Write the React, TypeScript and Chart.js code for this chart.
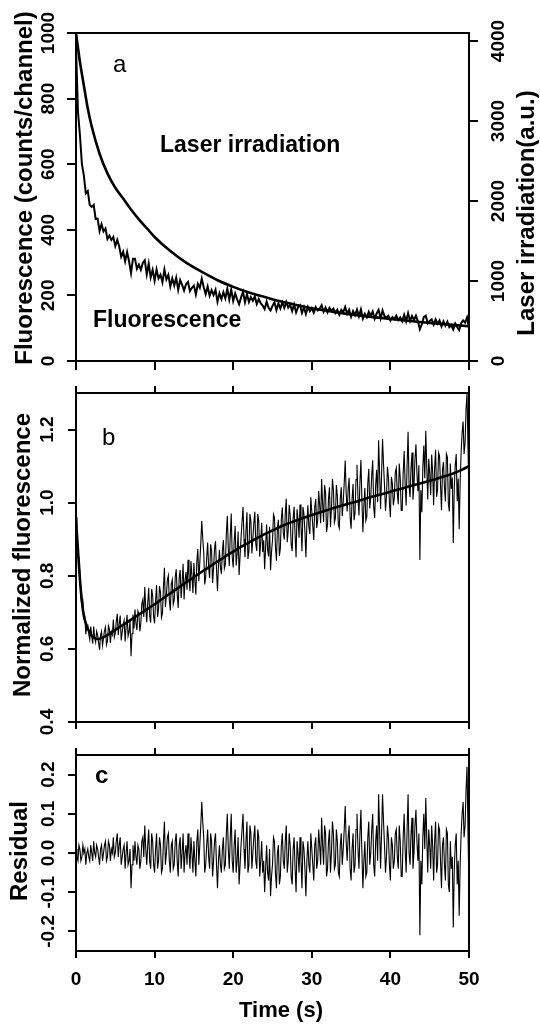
import React, { useEffect, useRef } from "react";
import { Chart, registerables } from "chart.js";

Chart.register(...registerables);

// ---------------- data ----------------
const TIME_TICKS = [0, 10, 20, 30, 40, 50];
const FLUOR_TICKS = [0, 200, 400, 600, 800, 1000];
const LASER_TICKS = [0, 1000, 2000, 3000, 4000];
const NORM_TICKS = [0.4, 0.6, 0.8, 1.0, 1.2];
const RESID_TICKS = [-0.2, -0.1, 0.0, 0.1, 0.2];

// sampling grids of the recorded traces (s)
const TRACE_STEP_A = 0.25;
const TRACE_STEP_BC = 0.125;
const timesA = Array.from({ length: 201 }, (_, i) => i * TRACE_STEP_A);
const timesBC = Array.from({ length: 401 }, (_, i) => i * TRACE_STEP_BC);

// panel a: fluorescence (counts/channel)
const fluorescence = [
  960, 760, 689, 601, 565, 511, 518, 475, 470, 476,
  433, 434, 396, 417, 395, 404, 372, 382, 369, 378,
  350, 369, 349, 318, 333, 304, 332, 304, 268, 312,
  312, 281, 294, 278, 299, 307, 264, 297, 255, 278,
  245, 279, 252, 263, 240, 279, 249, 263, 227, 252,
  230, 254, 217, 247, 232, 215, 234, 241, 213, 223,
  230, 203, 235, 223, 251, 225, 204, 227, 199, 216,
  201, 217, 181, 207, 189, 210, 191, 220, 187, 218,
  183, 206, 188, 173, 194, 211, 179, 204, 180, 195,
  184, 197, 174, 189, 176, 169, 158, 181, 162, 154,
  168, 179, 155, 176, 160, 179, 162, 180, 163, 171,
  152, 172, 148, 164, 170, 147, 164, 143, 165, 152,
  161, 147, 164, 154, 159, 170, 150, 163, 148, 162,
  153, 160, 146, 156, 141, 156, 149, 165, 144, 156,
  135, 152, 140, 157, 136, 157, 129, 144, 133, 150,
  138, 151, 129, 145, 156, 130, 154, 137, 132, 138,
  123, 134, 128, 138, 125, 133, 121, 141, 121, 146,
  122, 137, 125, 138, 121, 97, 112, 134, 138, 115,
  122, 127, 111, 127, 114, 124, 106, 121, 107, 120,
  103, 109, 96, 114, 103, 94, 115, 124, 117, 133,
  100,
];

// panel a: laser irradiation (a.u.)
const laserTimes = [0, 0.25, 0.5, 0.75, 1, 1.5, 2, 3, 4, 5, 6, 7, 8, 9, 10, 12, 14, 16, 18, 20, 22, 24, 26, 28, 30, 33, 36, 40, 45, 50];
const laserIrradiation = [4100, 3916, 3739, 3588, 3444, 3157, 2932, 2591, 2345, 2165, 2030, 1894, 1771, 1661, 1550, 1374, 1230, 1115, 1009, 927, 857, 800, 746, 701, 660, 611, 570, 525, 476, 435];

// panel b: normalized fluorescence
const normalizedFluorescence = [
  0.96, 0.90, 0.85, 0.85, 0.80, 0.74, 0.72, 0.73, 0.69, 0.69,
  0.64, 0.663, 0.665, 0.64, 0.625, 0.661, 0.636, 0.614, 0.661, 0.630,
  0.618, 0.648, 0.637, 0.617, 0.597, 0.638, 0.648, 0.609, 0.629, 0.650,
  0.660, 0.611, 0.622, 0.663, 0.654, 0.616, 0.647, 0.639, 0.680, 0.632,
  0.643, 0.675, 0.696, 0.638, 0.669, 0.691, 0.623, 0.645, 0.666, 0.678,
  0.620, 0.662, 0.693, 0.635, 0.647, 0.679, 0.580, 0.642, 0.694, 0.656,
  0.708, 0.670, 0.652, 0.704, 0.696, 0.648, 0.670, 0.723, 0.735, 0.687,
  0.769, 0.711, 0.673, 0.725, 0.767, 0.690, 0.672, 0.764, 0.746, 0.688,
  0.670, 0.733, 0.775, 0.687, 0.709, 0.772, 0.754, 0.686, 0.698, 0.770,
  0.822, 0.715, 0.747, 0.789, 0.801, 0.733, 0.705, 0.777, 0.789, 0.722,
  0.734, 0.796, 0.818, 0.750, 0.712, 0.794, 0.816, 0.739, 0.781, 0.833,
  0.735, 0.788, 0.810, 0.762, 0.844, 0.796, 0.758, 0.840, 0.801, 0.753,
  0.835, 0.787, 0.749, 0.841, 0.873, 0.785, 0.836, 0.888, 0.950, 0.902,
  0.864, 0.776, 0.797, 0.849, 0.891, 0.823, 0.794, 0.886, 0.868, 0.780,
  0.821, 0.873, 0.895, 0.817, 0.758, 0.830, 0.871, 0.823, 0.805, 0.867,
  0.898, 0.820, 0.831, 0.913, 0.964, 0.876, 0.827, 0.909, 0.970, 0.852,
  0.823, 0.895, 0.936, 0.828, 0.859, 0.921, 0.802, 0.854, 0.905, 0.947,
  0.988, 0.900, 0.851, 0.923, 0.974, 0.846, 0.867, 0.969, 0.950, 0.861,
  0.902, 0.944, 0.975, 0.887, 0.868, 0.969, 0.950, 0.852, 0.893, 0.944,
  0.865, 0.897, 0.818, 0.879, 0.940, 0.872, 0.853, 0.934, 0.815, 0.866,
  0.897, 0.968, 0.959, 0.880, 0.841, 0.932, 0.953, 0.854, 0.875, 0.956,
  0.987, 0.918, 0.899, 0.970, 1.011, 0.892, 0.923, 0.994, 0.965, 0.886,
  0.867, 0.958, 0.989, 0.910, 0.851, 0.982, 0.953, 0.904, 0.995, 0.936,
  0.867, 0.988, 0.969, 0.920, 0.851, 0.942, 0.993, 0.934, 0.914, 1.015,
  0.976, 0.937, 0.898, 0.989, 1.010, 0.931, 0.951, 1.032, 0.993, 0.944,
  1.065, 0.996, 0.947, 1.048, 1.028, 0.919, 0.940, 1.011, 1.042, 0.933,
  0.984, 1.065, 1.035, 0.946, 0.957, 1.048, 1.019, 0.940, 0.930, 1.011,
  1.042, 0.963, 1.003, 1.054, 1.115, 1.026, 0.976, 1.037, 1.068, 0.959,
  0.929, 1.010, 1.051, 0.952, 0.972, 1.063, 1.104, 1.015, 0.965, 1.056,
  1.117, 1.008, 0.919, 0.990, 1.040, 0.951, 0.962, 1.053, 1.093, 0.984,
  1.015, 1.076, 1.116, 0.987, 0.958, 1.049, 1.090, 1.001, 1.171, 1.082,
  0.983, 1.074, 1.174, 1.105, 1.046, 0.977, 1.017, 1.098, 1.069, 1.000,
  0.960, 1.071, 1.052, 0.993, 1.013, 1.084, 1.095, 1.026, 0.996, 1.107,
  1.068, 0.979, 0.979, 1.080, 1.141, 1.052, 0.992, 1.103, 1.194, 1.045,
  1.015, 1.096, 1.137, 1.008, 1.048, 1.119, 1.160, 1.081, 1.031, 1.102,
  0.843, 1.034, 0.974, 1.095, 1.156, 1.067, 1.197, 1.098, 1.009, 1.120,
  1.080, 1.021, 1.132, 1.083, 0.993, 1.094, 1.145, 1.016, 1.036, 1.137,
  1.128, 1.049, 0.979, 1.090, 1.111, 1.042, 1.003, 1.134, 1.125, 0.996,
  0.976, 1.107, 1.038, 1.069, 0.890, 1.041, 1.102, 1.133, 1.004, 1.066,
  0.927, 1.058, 1.139, 1.191, 1.222, 1.133, 1.164, 1.256, 1.300, 1.149,
  1.000,
];

// panel b: fitted curve
const fitTimes = [0, 0.25, 0.5, 0.75, 1, 1.25, 1.5, 1.75, 2, 2.25, 2.5, 2.75, 3, 3.5, 4, 4.5, 5, 6, 7, 8, 9, 10, 11, 12, 13, 14, 15, 16, 17, 18, 19, 20, 21, 22, 23, 24, 25, 26, 27, 28, 29, 30, 31, 32, 33, 34, 35, 36, 37, 38, 39, 40, 41, 42, 43, 44, 45, 46, 47, 48, 49, 50];
const fitValues = [0.95, 0.87, 0.79, 0.73, 0.69, 0.67, 0.655, 0.645, 0.636, 0.631, 0.628, 0.627, 0.628, 0.632, 0.638, 0.645, 0.652, 0.666, 0.680, 0.694, 0.708, 0.722, 0.737, 0.752, 0.767, 0.782, 0.796, 0.811, 0.825, 0.839, 0.853, 0.866, 0.879, 0.891, 0.903, 0.914, 0.924, 0.934, 0.943, 0.951, 0.959, 0.966, 0.973, 0.980, 0.987, 0.993, 0.999, 1.005, 1.012, 1.018, 1.024, 1.030, 1.036, 1.042, 1.048, 1.054, 1.060, 1.066, 1.073, 1.080, 1.089, 1.100];

// panel c: residuals
const residuals = [
  0.01, -0.01, -0.02, 0.02, 0.01, -0.02, -0.01, 0.02, 0.00, 0.01,
  -0.03, 0.00, 0.01, -0.01, -0.02, 0.02, 0.00, -0.02, 0.03, 0.00,
  -0.01, 0.02, 0.01, -0.01, -0.03, 0.01, 0.02, -0.02, 0.00, 0.02,
  0.03, -0.02, -0.01, 0.03, 0.02, -0.02, 0.01, 0.00, 0.04, -0.01,
  0.00, 0.03, 0.05, -0.01, 0.02, 0.04, -0.03, -0.01, 0.01, 0.02,
  -0.04, 0.00, 0.03, -0.03, -0.02, 0.01, -0.09, -0.03, 0.02, -0.02,
  0.03, -0.01, -0.03, 0.02, 0.01, -0.04, -0.02, 0.03, 0.04, -0.01,
  0.07, 0.01, -0.03, 0.02, 0.06, -0.02, -0.04, 0.05, 0.03, -0.03,
  -0.05, 0.01, 0.05, -0.04, -0.02, 0.04, 0.02, -0.05, -0.04, 0.03,
  0.08, -0.03, 0.00, 0.04, 0.05, -0.02, -0.05, 0.02, 0.03, -0.04,
  -0.03, 0.03, 0.05, -0.02, -0.06, 0.02, 0.04, -0.04, 0.00, 0.05,
  -0.05, 0.00, 0.02, -0.03, 0.05, 0.00, -0.04, 0.04, 0.00, -0.05,
  0.03, -0.02, -0.06, 0.03, 0.06, -0.03, 0.02, 0.07, 0.13, 0.08,
  0.04, -0.05, -0.03, 0.02, 0.06, -0.01, -0.04, 0.05, 0.03, -0.06,
  -0.02, 0.03, 0.05, -0.03, -0.09, -0.02, 0.02, -0.03, -0.05, 0.01,
  0.04, -0.04, -0.03, 0.05, 0.10, 0.01, -0.04, 0.04, 0.10, -0.02,
  -0.05, 0.02, 0.06, -0.05, -0.02, 0.04, -0.08, -0.03, 0.02, 0.06,
  0.10, 0.01, -0.04, 0.03, 0.08, -0.05, -0.03, 0.07, 0.05, -0.04,
  0.00, 0.04, 0.07, -0.02, -0.04, 0.06, 0.04, -0.06, -0.02, 0.03,
  -0.05, -0.02, -0.10, -0.04, 0.02, -0.05, -0.07, 0.01, -0.11, -0.06,
  -0.03, 0.04, 0.03, -0.05, -0.09, 0.00, 0.02, -0.08, -0.06, 0.02,
  0.05, -0.02, -0.04, 0.03, 0.07, -0.05, -0.02, 0.05, 0.02, -0.06,
  -0.08, 0.01, 0.04, -0.04, -0.10, 0.03, 0.00, -0.05, 0.04, -0.02,
  -0.09, 0.03, 0.01, -0.04, -0.11, -0.02, 0.03, -0.03, -0.05, 0.05,
  0.01, -0.03, -0.07, 0.02, 0.04, -0.04, -0.02, 0.06, 0.02, -0.03,
  0.09, 0.02, -0.03, 0.07, 0.05, -0.06, -0.04, 0.03, 0.06, -0.05,
  0.00, 0.08, 0.05, -0.04, -0.03, 0.06, 0.03, -0.05, -0.06, 0.02,
  0.05, -0.03, 0.01, 0.06, 0.12, 0.03, -0.02, 0.04, 0.07, -0.04,
  -0.07, 0.01, 0.05, -0.05, -0.03, 0.06, 0.10, 0.01, -0.04, 0.05,
  0.11, 0.00, -0.09, -0.02, 0.03, -0.06, -0.05, 0.04, 0.08, -0.03,
  0.00, 0.06, 0.10, -0.03, -0.06, 0.03, 0.07, -0.02, 0.15, 0.06,
  -0.04, 0.05, 0.15, 0.08, 0.02, -0.05, -0.01, 0.07, 0.04, -0.03,
  -0.07, 0.04, 0.02, -0.04, -0.02, 0.05, 0.06, -0.01, -0.04, 0.07,
  0.03, -0.06, -0.06, 0.04, 0.10, 0.01, -0.05, 0.06, 0.15, 0.00,
  -0.03, 0.05, 0.09, -0.04, 0.00, 0.07, 0.11, 0.03, -0.02, 0.05,
  -0.21, -0.02, -0.08, 0.04, 0.10, 0.01, 0.14, 0.04, -0.05, 0.06,
  0.02, -0.04, 0.07, 0.02, -0.07, 0.03, 0.08, -0.05, -0.03, 0.07,
  0.06, -0.02, -0.09, 0.02, 0.04, -0.03, -0.07, 0.06, 0.05, -0.08,
  -0.10, 0.03, -0.04, -0.01, -0.19, -0.04, 0.02, 0.05, -0.08, -0.02,
  -0.16, -0.03, 0.05, 0.10, 0.13, 0.04, 0.07, 0.16, 0.22, 0.05,
  -0.10,
];

// ---------------- styling helpers ----------------
const BLACK = "#000000";
const FAMILY = "'Liberation Sans', Arial, Helvetica, sans-serif";
const TICK_FONT = `bold 19px ${FAMILY}`;
const TITLE_FONT = `bold 24px ${FAMILY}`;

const toPoints = (xs: number[], ys: number[]) => ys.map((y, i) => ({ x: xs[i], y }));

type Item =
  | { kind: "yTicks"; scale: string; x: number; decimals: number }
  | { kind: "xTicks"; scale: string; y: number; decimals: number }
  | { kind: "text"; text: string; x: number; y: number; font: string; rotate?: boolean; align?: CanvasTextAlign; baseline?: CanvasTextBaseline };

function makeTextPlugin(items: Item[]) {
  return {
    id: "textLayer",
    afterDraw(chart: any) {
      const ctx: CanvasRenderingContext2D = chart.ctx;
      ctx.save();
      ctx.fillStyle = BLACK;
      const rotated = (text: string, x: number, y: number) => {
        ctx.save();
        ctx.translate(x, y);
        ctx.rotate(-Math.PI / 2);
        ctx.fillText(text, 0, 0);
        ctx.restore();
      };
      for (const it of items) {
        if (it.kind === "yTicks") {
          const sc = chart.scales[it.scale];
          ctx.font = TICK_FONT;
          ctx.textAlign = "center";
          ctx.textBaseline = "middle";
          for (const t of sc.ticks) {
            rotated(Number(t.value).toFixed(it.decimals), it.x, sc.getPixelForValue(t.value));
          }
        } else if (it.kind === "xTicks") {
          const sc = chart.scales[it.scale];
          ctx.font = TICK_FONT;
          ctx.textAlign = "center";
          ctx.textBaseline = "middle";
          for (const t of sc.ticks) {
            ctx.fillText(Number(t.value).toFixed(it.decimals), sc.getPixelForValue(t.value), it.y);
          }
        } else {
          ctx.font = it.font;
          ctx.textAlign = it.align || "center";
          ctx.textBaseline = it.baseline || "middle";
          if (it.rotate) rotated(it.text, it.x, it.y);
          else ctx.fillText(it.text, it.x, it.y);
        }
      }
      ctx.restore();
    },
  };
}

function edgeAxis(position: string, min: number, max: number, tickValues: number[], tickLen: number, size: number) {
  const horizontal = position === "top" || position === "bottom";
  return {
    type: "linear",
    position,
    min,
    max,
    afterBuildTicks: (scale: any) => {
      scale.ticks = tickValues.map((v) => ({ value: v }));
    },
    afterFit: (scale: any) => {
      if (horizontal) scale.height = size;
      else scale.width = size;
    },
    ticks: { display: false },
    grid: {
      display: true,
      drawOnChartArea: false,
      drawTicks: tickLen > 0,
      tickLength: tickLen,
      color: BLACK,
      lineWidth: 2,
    },
    border: { display: true, color: BLACK, width: 2 },
  };
}

const LEFT_W = 76;
const RIGHT_W = 71;

function baseOptions(topPad: number, scales: any) {
  return {
    responsive: false,
    animation: false,
    events: [],
    layout: { padding: { top: topPad, left: 0, right: 0, bottom: 0 } },
    plugins: { legend: { display: false }, tooltip: { enabled: false }, title: { display: false } },
    elements: { point: { radius: 0 }, line: { tension: 0 } },
    scales,
  };
}

function configA(): any {
  return {
    type: "line",
    data: {
      datasets: [
        {
          data: toPoints(laserTimes, laserIrradiation),
          yAxisID: "yR",
          xAxisID: "x",
          borderColor: BLACK,
          borderWidth: 2.6,
          cubicInterpolationMode: "monotone",
          fill: false,
        },
        {
          data: toPoints(timesA, fluorescence),
          yAxisID: "y",
          xAxisID: "x",
          borderColor: BLACK,
          borderWidth: 2,
          fill: false,
        },
      ],
    },
    options: baseOptions(33, {
      x: edgeAxis("bottom", 0, 50, TIME_TICKS, 9, 19),
      xT: edgeAxis("top", 0, 50, TIME_TICKS, 0, 0),
      y: edgeAxis("left", 0, 1000, FLUOR_TICKS, 9, LEFT_W),
      yR: edgeAxis("right", 0, 4100, LASER_TICKS, 9, RIGHT_W),
    }),
    plugins: [
      makeTextPlugin([
        { kind: "yTicks", scale: "y", x: 49, decimals: 0 },
        { kind: "yTicks", scale: "yR", x: 499, decimals: 0 },
        { kind: "text", text: "Fluorescence (counts/channel)", x: 25, y: 188, font: TITLE_FONT, rotate: true },
        { kind: "text", text: "Laser irradiation(a.u.)", x: 527, y: 213, font: TITLE_FONT, rotate: true },
        { kind: "text", text: "a", x: 113, y: 72, font: `24px ${FAMILY}`, align: "left", baseline: "alphabetic" },
        { kind: "text", text: "Laser irradiation", x: 160, y: 152, font: `bold 23px ${FAMILY}`, align: "left", baseline: "alphabetic" },
        { kind: "text", text: "Fluorescence", x: 93, y: 327, font: `bold 23px ${FAMILY}`, align: "left", baseline: "alphabetic" },
      ]),
    ],
  };
}

function configB(): any {
  return {
    type: "line",
    data: {
      datasets: [
        {
          data: toPoints(timesBC, normalizedFluorescence),
          borderColor: BLACK,
          borderWidth: 1.1,
          fill: false,
        },
        {
          data: toPoints(fitTimes, fitValues),
          borderColor: BLACK,
          borderWidth: 2.6,
          cubicInterpolationMode: "monotone",
          fill: false,
        },
      ],
    },
    options: baseOptions(13, {
      x: edgeAxis("bottom", 0, 50, TIME_TICKS, 7, 14),
      xT: edgeAxis("top", 0, 50, TIME_TICKS, 7, 0),
      y: edgeAxis("left", 0.4, 1.3, NORM_TICKS, 8, LEFT_W),
      yR: edgeAxis("right", 0.4, 1.3, [], 0, RIGHT_W),
    }),
    plugins: [
      makeTextPlugin([
        { kind: "yTicks", scale: "y", x: 48, decimals: 1 },
        { kind: "text", text: "Normalized fluorescence", x: 23, y: 175, font: TITLE_FONT, rotate: true },
        { kind: "text", text: "b", x: 102, y: 65, font: `24px ${FAMILY}`, align: "left", baseline: "alphabetic" },
      ]),
    ],
  };
}

function configC(): any {
  return {
    type: "line",
    data: {
      datasets: [
        {
          data: toPoints(timesBC, residuals),
          borderColor: BLACK,
          borderWidth: 1.1,
          fill: false,
        },
      ],
    },
    options: baseOptions(19, {
      x: edgeAxis("bottom", 0, 50, TIME_TICKS, 7, 74),
      xT: edgeAxis("top", 0, 50, TIME_TICKS, 7, 0),
      y: edgeAxis("left", -0.25, 0.25, RESID_TICKS, 8, LEFT_W),
      yR: edgeAxis("right", -0.25, 0.25, [], 0, RIGHT_W),
    }),
    plugins: [
      makeTextPlugin([
        { kind: "yTicks", scale: "y", x: 49, decimals: 1 },
        { kind: "xTicks", scale: "x", y: 244, decimals: 0 },
        { kind: "text", text: "Residual", x: 20, y: 115, font: TITLE_FONT, rotate: true },
        { kind: "text", text: "Time (s)", x: 281, y: 275, font: `bold 22px ${FAMILY}` },
        { kind: "text", text: "c", x: 95, y: 47, font: `bold 24px ${FAMILY}`, align: "left", baseline: "alphabetic" },
      ]),
    ],
  };
}

export default function App() {
  const aRef = useRef<HTMLCanvasElement>(null);
  const bRef = useRef<HTMLCanvasElement>(null);
  const cRef = useRef<HTMLCanvasElement>(null);

  useEffect(() => {
    const charts = [
      new Chart(aRef.current as HTMLCanvasElement, configA()),
      new Chart(bRef.current as HTMLCanvasElement, configB()),
      new Chart(cRef.current as HTMLCanvasElement, configC()),
    ];
    return () => charts.forEach((c) => c.destroy());
  }, []);

  return (
    <div style={{ position: "absolute", left: 0, top: 0, width: 540, height: 1025, background: "#ffffff" }}>
      <canvas ref={aRef} width={540} height={380} style={{ position: "absolute", left: 0, top: 0 }} />
      <canvas ref={bRef} width={540} height={356} style={{ position: "absolute", left: 0, top: 380 }} />
      <canvas ref={cRef} width={540} height={289} style={{ position: "absolute", left: 0, top: 736 }} />
    </div>
  );
}
